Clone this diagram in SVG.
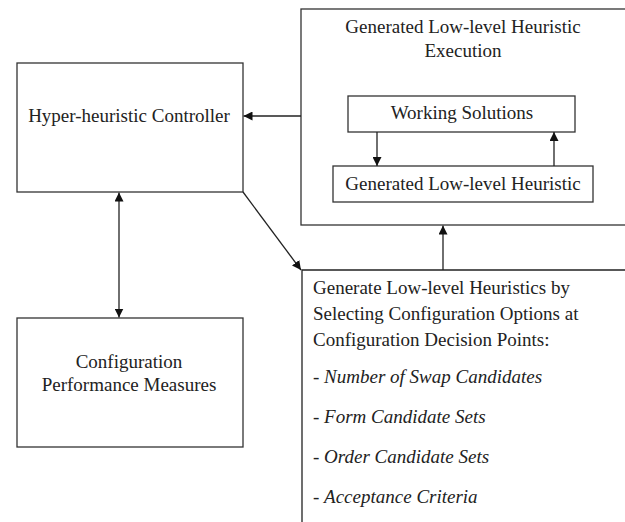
<svg xmlns="http://www.w3.org/2000/svg" width="625" height="522" viewBox="0 0 625 522">
<style>
.box{fill:#fff;stroke:#333;stroke-width:1.3}
.ln{stroke:#222;stroke-width:1.3;fill:none}
text{font-family:"Liberation Serif","Times New Roman",serif;font-size:19px;fill:#222}
.c{text-anchor:middle}
.i{font-style:italic}
</style>
<defs>
<marker id="ah" viewBox="0 0 10 10" refX="10" refY="5" markerWidth="9" markerHeight="9" markerUnits="userSpaceOnUse" orient="auto-start-reverse">
<path d="M0,0 L10,5 L0,10 z" fill="#111"/>
</marker>
</defs>
<rect width="625" height="522" fill="#fff"/>
<g id="exec">
<rect class="box" x="301" y="9" width="330" height="216"/>
<text class="c" x="463" y="33">Generated Low-level Heuristic</text>
<text class="c" x="463" y="57">Execution</text>
</g>
<g id="working">
<rect class="box" x="348" y="96" width="227" height="36"/>
<text class="c" x="462" y="119">Working Solutions</text>
</g>
<g id="gllh">
<rect class="box" x="333" y="166" width="260" height="36"/>
<text class="c" x="463" y="190">Generated Low-level Heuristic</text>
</g>
<g id="controller">
<rect class="box" x="17" y="63" width="226" height="129"/>
<text class="c" x="129" y="122">Hyper-heuristic Controller</text>
</g>
<g id="measures">
<rect class="box" x="17" y="318" width="226" height="129"/>
<text class="c" x="129" y="368">Configuration</text>
<text class="c" x="129" y="391">Performance Measures</text>
</g>
<g id="generate">
<path class="ln" d="M302,530 L302,270 L630,270"/>
<text x="313" y="294">Generate Low-level  Heuristics by</text>
<text x="313" y="320">Selecting Configuration Options at</text>
<text x="313" y="346">Configuration Decision Points:</text>
<text x="313" y="383">- <tspan class="i">Number of Swap Candidates</tspan></text>
<text x="313" y="423">- <tspan class="i">Form Candidate Sets</tspan></text>
<text x="313" y="463">- <tspan class="i">Order Candidate Sets</tspan></text>
<text x="313" y="503">- <tspan class="i">Acceptance Criteria</tspan></text>
</g>
<g id="connectors">
<line class="ln" x1="301" y1="116" x2="243.5" y2="116" marker-end="url(#ah)"/>
<line class="ln" x1="377" y1="132" x2="377" y2="166" marker-end="url(#ah)"/>
<line class="ln" x1="554" y1="166" x2="554" y2="132" marker-end="url(#ah)"/>
<line class="ln" x1="443" y1="270" x2="443" y2="225.5" marker-end="url(#ah)"/>
<line class="ln" x1="243" y1="192" x2="301" y2="270" marker-end="url(#ah)"/>
<line class="ln" x1="119" y1="192.5" x2="119" y2="317.5" marker-start="url(#ah)" marker-end="url(#ah)"/>
</g>
</svg>
